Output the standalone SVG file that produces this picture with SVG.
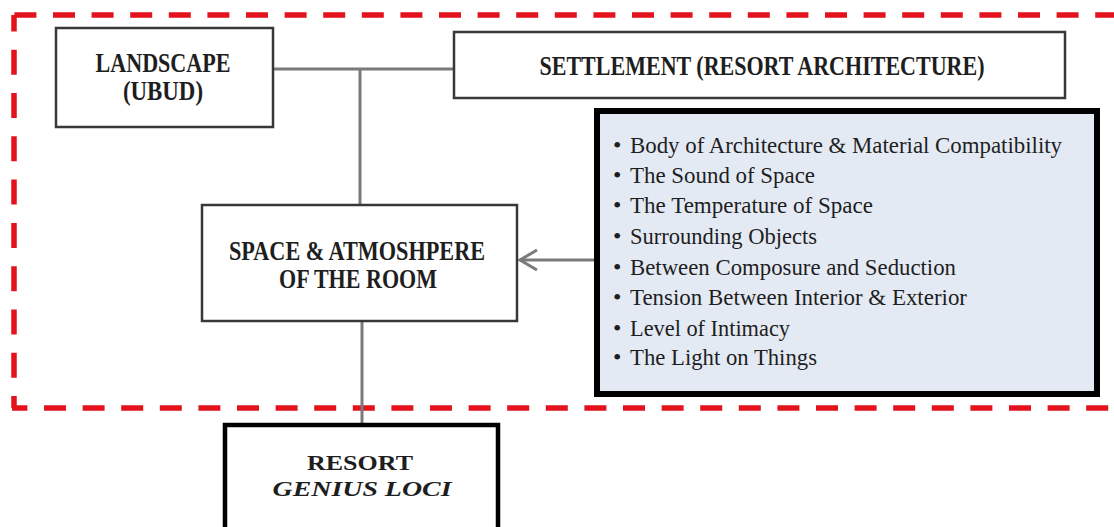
<svg xmlns="http://www.w3.org/2000/svg" width="1114" height="527" viewBox="0 0 1114 527">
<style>
.frame{stroke:#e3121d;stroke-width:5.5;fill:none}
.box{fill:#ffffff;stroke:#383838;stroke-width:2.5}
.title{font-family:"Liberation Serif","Times New Roman",serif;font-weight:bold;font-size:27px;fill:#1e1e1e;text-anchor:middle}
.item{font-family:"Liberation Serif","Times New Roman",serif;font-size:24px;fill:#1e1e1e}
.conn{stroke:#7a7a7a;stroke-width:3;fill:none}
</style>
<defs>
<marker id="open" markerWidth="22" markerHeight="26" refX="19" refY="12" orient="auto" markerUnits="userSpaceOnUse" viewBox="0 0 22 26">
<path d="M2 2 L19 12 L2 22" fill="none" stroke="#7a7a7a" stroke-width="3"/>
</marker>
</defs>
<g id="boundary">
<line class="frame" x1="12" y1="15" x2="1120" y2="15" stroke-dasharray="22 16.6" stroke-dashoffset="36.2"/>
<line class="frame" x1="12" y1="408" x2="1120" y2="408" stroke-dasharray="22 16.6" stroke-dashoffset="6.6"/>
<line class="frame" x1="14" y1="15" x2="14" y2="408" stroke-dasharray="25 18.3" stroke-dashoffset="8.6"/>
</g>
<g id="connectors">
<line class="conn" x1="273" y1="69" x2="454" y2="69"/>
<line class="conn" x1="360" y1="69" x2="360" y2="205"/>
<line class="conn" x1="362" y1="321" x2="362" y2="425"/>
<line class="conn" x1="594" y1="260" x2="520" y2="260" marker-end="url(#open)"/>
</g>
<g id="landscape">
<rect class="box" x="56" y="28" width="217" height="99"/>
<text class="title" x="163" y="72" textLength="135" lengthAdjust="spacingAndGlyphs">LANDSCAPE</text>
<text class="title" x="163" y="100" textLength="80" lengthAdjust="spacingAndGlyphs">(UBUD)</text>
</g>
<g id="settlement">
<rect class="box" x="454" y="32" width="611" height="66"/>
<text class="title" x="762" y="75" textLength="445" lengthAdjust="spacingAndGlyphs">SETTLEMENT (RESORT ARCHITECTURE)</text>
</g>
<g id="space">
<rect class="box" x="202" y="205" width="315" height="116"/>
<text class="title" x="357" y="260" textLength="256" lengthAdjust="spacingAndGlyphs">SPACE &amp; ATMOSHPERE</text>
<text class="title" x="358" y="288" textLength="158" lengthAdjust="spacingAndGlyphs">OF THE ROOM</text>
</g>
<g id="qualities">
<rect x="597" y="111" width="500" height="283" fill="#e4eaf4" stroke="#000000" stroke-width="6"/>
<g class="item">
<text x="613" y="153">•</text><text x="630" y="153" textLength="432" lengthAdjust="spacingAndGlyphs">Body of Architecture &amp; Material Compatibility</text>
<text x="613" y="183">•</text><text x="630" y="183" textLength="185" lengthAdjust="spacingAndGlyphs">The Sound of Space</text>
<text x="613" y="213">•</text><text x="630" y="213" textLength="243" lengthAdjust="spacingAndGlyphs">The Temperature of Space</text>
<text x="613" y="244">•</text><text x="630" y="244" textLength="187" lengthAdjust="spacingAndGlyphs">Surrounding Objects</text>
<text x="613" y="275">•</text><text x="630" y="275" textLength="326" lengthAdjust="spacingAndGlyphs">Between Composure and Seduction</text>
<text x="613" y="305">•</text><text x="630" y="305" textLength="337" lengthAdjust="spacingAndGlyphs">Tension Between Interior &amp; Exterior</text>
<text x="613" y="336">•</text><text x="630" y="336" textLength="160" lengthAdjust="spacingAndGlyphs">Level of Intimacy</text>
<text x="613" y="365">•</text><text x="630" y="365" textLength="187" lengthAdjust="spacingAndGlyphs">The Light on Things</text>
</g>
</g>
<g id="resort">
<rect x="225" y="425" width="273" height="120" fill="#ffffff" stroke="#000000" stroke-width="4.5"/>
<text class="title" x="360" y="470" style="font-size:21px" textLength="106" lengthAdjust="spacingAndGlyphs">RESORT</text>
<text class="title" x="362" y="496" style="font-size:21px;font-style:italic" textLength="179" lengthAdjust="spacingAndGlyphs">GENIUS LOCI</text>
</g>
</svg>
